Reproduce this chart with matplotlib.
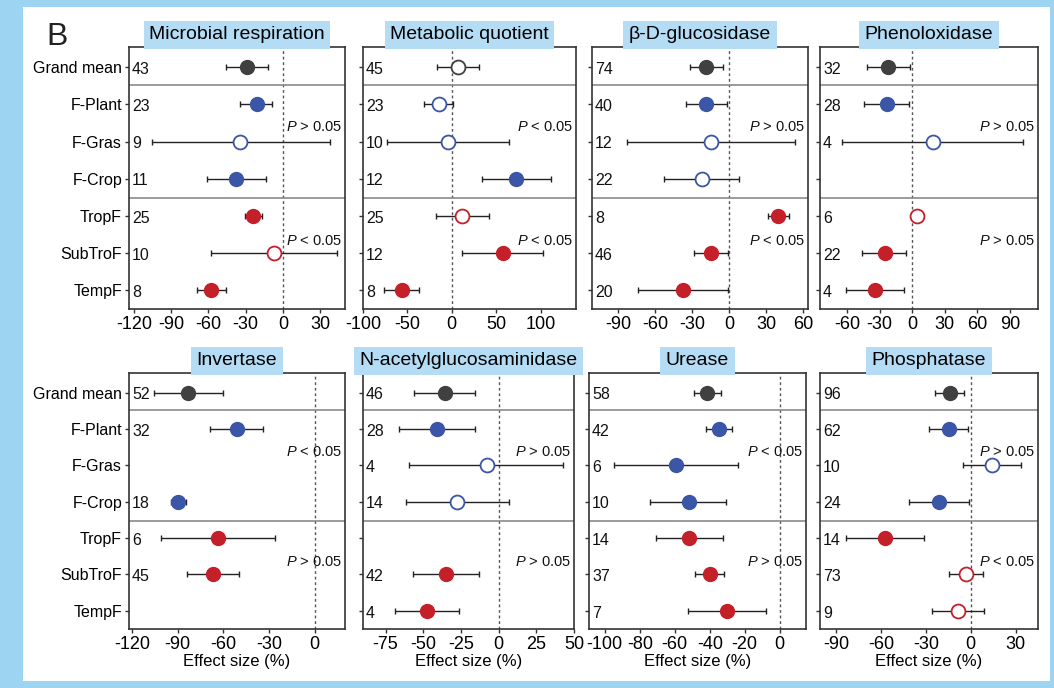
import numpy as np
import matplotlib
matplotlib.use("Agg")
import matplotlib.pyplot as plt
import matplotlib.transforms as mtransforms
from matplotlib.patches import Rectangle

plt.rcParams['font.family'] = ['Liberation Sans', 'DejaVu Sans']
plt.rcParams['mathtext.fontset'] = 'custom'
plt.rcParams['mathtext.it'] = 'Liberation Sans:italic'
plt.rcParams['mathtext.rm'] = 'Liberation Sans'

nan = np.nan
rows = ["Grand mean", "F-Plant", "F-Gras", "F-Crop", "TropF", "SubTroF", "TempF"]

# microbial respiration
resp_mean = [-29, -20.7, -34.4, -37.9, -24.2, -7.2, -57.7]
resp_lo = [-45.6, -34.4, -105.5, -61.5, -30.9, -58, -69.3]
resp_hi = [-11.8, -8.6, 37.6, -13.4, -16.9, 43.8, -45.6]
resp_n = ["43", "23", "9", "11", "25", "10", "8"]
resp_open = [0, 0, 1, 0, 0, 1, 0]
resp_p = ["$P$ > 0.05", "$P$ < 0.05"]

# metabolic quotient
mq_mean = [6.8, -14, -4.2, 72.8, 11.7, 57.4, -55.8]
mq_lo = [-16.6, -31.7, -73.2, 34, -17.4, 11.3, -75.8]
mq_hi = [30.2, 1.9, 64.5, 111.3, 41.5, 102.6, -36.6]
mq_n = ["45", "23", "10", "12", "25", "12", "8"]
mq_open = [1, 1, 1, 0, 1, 0, 0]
mq_p = ["$P$ < 0.05", "$P$ < 0.05"]

# beta-D-glucosidase
bg_mean = [-18.9, -18.4, -14.3, -22.2, 40, -14.9, -37.3]
bg_lo = [-31.9, -34.6, -82.7, -53, 31.4, -28.6, -73.8]
bg_hi = [-5.1, -1.6, 53.2, 8.1, 48.6, -0.8, -0.8]
bg_n = ["74", "40", "12", "22", "8", "46", "20"]
bg_open = [0, 0, 1, 1, 0, 0, 0]
bg_p = ["$P$ > 0.05", "$P$ < 0.05"]

# phenoloxidase
po_mean = [-22.1, -23.6, 19, nan, 4.3, -25.5, -34]
po_lo = [-42, -44.2, -65, nan, -1.5, -46, -60.8]
po_hi = [-2.1, -3.1, 102.5, nan, 10.1, -5.8, -8]
po_n = ["32", "28", "4", "", "6", "22", "4"]
po_open = [0, 0, 1, 0, 1, 0, 0]
po_p = ["$P$ > 0.05", "$P$ > 0.05"]

# invertase
inv_mean = [-82.9, -51.1, nan, -89.5, -63.2, -66.7, nan]
inv_lo = [-105.3, -68.7, nan, -94.3, -100.7, -83.8, nan]
inv_hi = [-60.3, -33.6, nan, -84.5, -25.7, -49.4, nan]
inv_n = ["52", "32", "", "18", "6", "45", ""]
inv_open = [0, 0, 0, 0, 0, 0, 0]
inv_p = ["$P$ < 0.05", "$P$ > 0.05"]

# N-acetylglucosaminidase
nag_mean = [-35.8, -41.1, -7.9, -27.4, nan, -34.9, -47.5]
nag_lo = [-56.1, -66.2, -59.8, -61.6, nan, -56.5, -68.9]
nag_hi = [-15.9, -15.9, 43, 6.6, nan, -12.8, -26]
nag_n = ["46", "28", "4", "14", "", "42", "4"]
nag_open = [0, 0, 1, 1, 0, 0, 0]
nag_p = ["$P$ > 0.05", "$P$ > 0.05"]

# urease
ure_mean = [-41.4, -34.7, -59.4, -52.1, -51.7, -39.7, -30.3]
ure_lo = [-49, -42, -94.6, -73.9, -70.5, -48.3, -52.7]
ure_hi = [-33.5, -27.4, -24.1, -30.5, -32.6, -31.6, -7.9]
ure_n = ["58", "42", "6", "10", "14", "37", "7"]
ure_open = [0, 0, 0, 0, 0, 0, 0]
ure_p = ["$P$ < 0.05", "$P$ > 0.05"]

# phosphatase
pho_mean = [-14.1, -14.8, 14.1, -21.3, -57.3, -3.4, -8.5]
pho_lo = [-24.2, -27.7, -5.1, -41.6, -83.4, -14.5, -25.7]
pho_hi = [-4.3, -2.2, 33.3, -1.1, -31.3, 8.3, 8.7]
pho_n = ["96", "62", "10", "24", "14", "73", "9"]
pho_open = [0, 0, 1, 0, 0, 1, 1]
pho_p = ["$P$ > 0.05", "$P$ < 0.05"]

panels = [
    ("Microbial respiration", resp_mean, resp_lo, resp_hi, resp_n, resp_open, resp_p,
     [-120, -90, -60, -30, 0, 30], (-124, 50)),
    ("Metabolic quotient", mq_mean, mq_lo, mq_hi, mq_n, mq_open, mq_p,
     [-100, -50, 0, 50, 100], (-100, 140)),
    ("β-D-glucosidase", bg_mean, bg_lo, bg_hi, bg_n, bg_open, bg_p,
     [-90, -60, -30, 0, 30, 60], (-111, 64)),
    ("Phenoloxidase", po_mean, po_lo, po_hi, po_n, po_open, po_p,
     [-60, -30, 0, 30, 60, 90], (-85, 116)),
    ("Invertase", inv_mean, inv_lo, inv_hi, inv_n, inv_open, inv_p,
     [-120, -90, -60, -30, 0], (-122, 20)),
    ("N-acetylglucosaminidase", nag_mean, nag_lo, nag_hi, nag_n, nag_open, nag_p,
     [-75, -50, -25, 0, 25, 50], (-90, 50)),
    ("Urease", ure_mean, ure_lo, ure_hi, ure_n, ure_open, ure_p,
     [-100, -80, -60, -40, -20, 0], (-109, 15)),
    ("Phosphatase", pho_mean, pho_lo, pho_hi, pho_n, pho_open, pho_p,
     [-90, -60, -30, 0, 30], (-101, 45)),
]

# axes boxes in pixels (left, right, top, bottom) of a 1054x688 image
W, H = 1054, 688
boxes = [
    (129, 345, 47, 309), (363, 576, 47, 309), (592, 808, 47, 309), (820, 1038, 47, 309),
    (129, 345, 373, 629), (363, 574, 373, 629), (589, 806, 373, 629), (820, 1038, 373, 629),
]

row_colors = ["#404040", "#3b55a7", "#3b55a7", "#3b55a7", "#c3202a", "#c3202a", "#c3202a"]
frame_blue = "#9dd4f1"
title_blue = "#b5dcf5"

fig = plt.figure(figsize=(W / 100, H / 100), dpi=100)
fig.patch.set_facecolor(frame_blue)
fig.patches.append(Rectangle((23 / W, 7 / H), 1027 / W, 674 / H, transform=fig.transFigure,
                             facecolor="white", edgecolor="none", zorder=-5))
fig.text(46 / W, (H - 45) / H, "B", fontsize=23, color="#222222", va="baseline", ha="left")

for i, (title, mean, lo, hi, ns, opn, ptxt, ticks, xlim) in enumerate(panels):
    l, r, t, b = boxes[i]
    ax = fig.add_axes([l / W, (H - b) / H, (r - l) / W, (b - t) / H])
    ypos = np.arange(len(rows))
    ax.set_xlim(*xlim)
    ax.set_ylim(6.5, -0.54)
    ax.axvline(0, color="#555555", lw=1, ls=(0, (2, 2)), zorder=1)
    ax.axhline(0.47, color="#8a8a8a", lw=1.2, zorder=1)
    ax.axhline(3.53, color="#8a8a8a", lw=1.2, zorder=1)

    for k in range(len(rows)):
        if np.isnan(mean[k]):
            continue
        ax.errorbar(mean[k], ypos[k], xerr=[[mean[k] - lo[k]], [hi[k] - mean[k]]], fmt="none",
                    ecolor="#222222", elinewidth=1, capsize=2, capthick=1, zorder=2)
        if opn[k]:
            ax.plot(mean[k], ypos[k], "o", ms=10, mfc="white", mec=row_colors[k], mew=1.3, zorder=3)
        else:
            ax.plot(mean[k], ypos[k], "o", ms=10, mfc=row_colors[k], mec=row_colors[k], mew=1, zorder=3)

    off = mtransforms.offset_copy(ax.get_yaxis_transform(), fig=fig, x=3, y=0, units="dots")
    for k in range(len(rows)):
        ax.text(0, ypos[k] + 0.06, ns[k], transform=off, ha="left", va="center",
                fontsize=11.5, color="#111111")

    ax.text(0.985, 1.62, ptxt[0], transform=ax.get_yaxis_transform(), ha="right", va="center",
            fontsize=10.5, color="#111111")
    ax.text(0.985, 4.66, ptxt[1], transform=ax.get_yaxis_transform(), ha="right", va="center",
            fontsize=10.5, color="#111111")

    ax.set_xticks(ticks)
    ax.set_xticklabels([str(v) for v in ticks], fontsize=13)
    ax.set_yticks(ypos)
    if i % 4 == 0:
        ax.set_yticklabels(rows, fontsize=11.5)
    else:
        ax.set_yticklabels([])
    ax.tick_params(direction="out", length=3, width=1, color="#333333", pad=2)
    for s in ax.spines.values():
        s.set_color("#333333")
        s.set_linewidth(1.2)
    if i >= 4:
        ax.set_xlabel("Effect size (%)", fontsize=12, labelpad=1)

    tt = mtransforms.offset_copy(ax.transAxes, fig=fig, x=0, y=2.6, units="points")
    ax.text(0.5, 1.0, title, transform=tt, ha="center", va="bottom", fontsize=14,
            bbox=dict(boxstyle="square,pad=0.28", facecolor=title_blue, edgecolor="none"))

fig.savefig("out.png", dpi=100, facecolor=fig.get_facecolor())
